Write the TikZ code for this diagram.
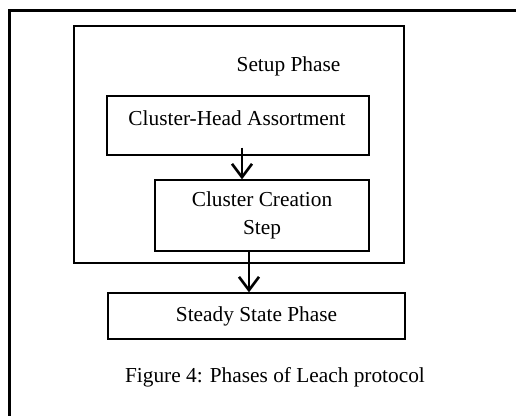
\documentclass[tikz,border=0pt]{standalone}
\usepackage{fontspec}
\setmainfont{Liberation Serif}
\usetikzlibrary{arrows.meta}
\begin{document}
\begin{tikzpicture}[x=0.75pt,y=-0.75pt,
  box/.style={draw=black, line width=0.9pt, rectangle, inner sep=0pt},
  txt/.style={font=\fontsize{16}{21}\selectfont, align=center, inner sep=0pt},
  arr/.style={line width=2pt, -{Straight Barb[length=10pt,width=15pt,line width=2pt]}}]
\useasboundingbox (0,0) rectangle (516,416);
% outer frame (top and left edges only visible)
\coordinate (fbl) at (9.5,420);
\coordinate (ftl) at (9.5,10.5);
\coordinate (ftr) at (520,10.5);
\draw[line width=1.6pt] (fbl) -- (ftl) -- (ftr);
% setup phase box
\node[box, minimum width=330*0.75pt, minimum height=237*0.75pt] (setup) at (239,144.5) {};
\node[txt] (setuptxt) at (288.5,66) {Setup Phase};
% cluster-head assortment
\node[box, minimum width=262*0.75pt, minimum height=59*0.75pt] (ch) at (238,125.5) {};
\node[txt] (chtxt) at (237,118) {Cluster-Head Assortment};
% cluster creation step
\node[box, txt, minimum width=214*0.75pt, minimum height=71*0.75pt] (cc) at (262,215.5) {Cluster Creation\\Step};
% steady state
\node[box, txt, minimum width=297*0.75pt, minimum height=46*0.75pt] (ss) at (256.5,316) {Steady State Phase};
% caption
\node[txt] (cap) at (275,377) {Figure 4: Phases of Leach protocol};
% arrows
\draw[arr] ([shift={(4,-8)}]ch.south) coordinate (a1) -- (a1 |- cc.north);
\draw[arr] ([xshift=-13*0.75pt]cc.south) coordinate (a2) -- (a2 |- ss.north);
\end{tikzpicture}
\end{document}
